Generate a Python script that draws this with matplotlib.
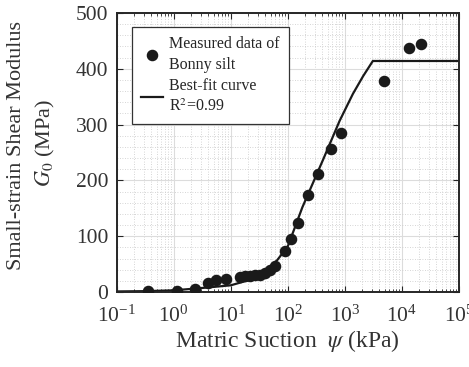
import matplotlib
matplotlib.use('Agg')
import matplotlib.pyplot as plt
from matplotlib.ticker import MultipleLocator, LogLocator
import numpy as np

plt.rcParams['font.family'] = ['Liberation Serif', 'DejaVu Serif']
plt.rcParams['mathtext.fontset'] = 'stix'
plt.rcParams['axes.unicode_minus'] = False

# measured data (kPa, MPa)
suction = [0.36, 1.16, 2.35, 4.0, 5.6, 8.1, 14.7, 17.5, 21.8, 26.7, 32.5, 40, 49, 60,
           89, 112, 148, 229, 342, 570, 870, 4900, 13200, 21400]
g0 = [1, 2, 6, 16, 22, 24, 27, 28, 29, 30, 31, 34, 39, 46,
      73, 95, 124, 174, 212, 256, 285, 379, 437, 444]

# best-fit curve
fit_suction = [0.1, 0.3, 1.0, 3.0, 10, 30, 65, 100, 180, 410, 810, 1380, 2090, 3090, 1e5]
fit_g0 = [1, 1.5, 3, 7, 12, 26, 57, 82, 152, 236, 307, 355, 387, 414, 414]

W, H = 469, 367
fig = plt.figure(figsize=(W / 100, H / 100), dpi=100)
ax = fig.add_axes([116.7 / W, 1 - 292 / H, (459 - 116.7) / W, (292 - 13) / H])

ax.grid(True, which='major', color='#dcdcdc', lw=0.8, ls='-')
ax.grid(True, which='minor', color='#c8c8c8', lw=0.6, ls=(0, (1, 2)))

p1, = ax.plot(suction, g0, 'o', color='#1a1a1a', ms=7.3, mec='#1a1a1a', zorder=3)
p2, = ax.plot(fit_suction, fit_g0, '-', color='#1a1a1a', lw=1.6, zorder=2)

ax.set_xscale('log')
ax.set_xlim(1e-1, 1e5)
ax.set_ylim(0, 500)
ax.xaxis.set_major_locator(LogLocator(base=10, numticks=10))
ax.xaxis.set_minor_locator(LogLocator(base=10, subs=np.arange(2, 10), numticks=20))
ax.yaxis.set_major_locator(MultipleLocator(100))
ax.yaxis.set_minor_locator(MultipleLocator(20))

ax.tick_params(which='both', direction='in', top=True, right=True, labelsize=15.5,
               color='#262626', labelcolor='#333333')
ax.tick_params(which='major', length=4)
ax.tick_params(which='minor', length=2)
ax.tick_params(axis='x', pad=10)
ax.tick_params(axis='y', pad=6)
ax.tick_params(axis='y', which='minor', left=False, right=False)
for s in ax.spines.values():
    s.set_color('#262626')
    s.set_linewidth(1.4)

ax.set_xlabel(r'Matric Suction  $\mathit{\psi}$ (kPa)', fontsize=17, color='#333333', labelpad=0.5)

fig.text(17 / W, 1 - 145 / H, 'Small-strain Shear Modulus', rotation=90, fontsize=16,
         ha='center', va='center', color='#333333')
fig.text(45 / W, 1 - 143 / H, r'$\mathit{G_0}$ (MPa)', rotation=90, fontsize=16,
         ha='center', va='center', color='#333333')

leg = ax.legend([p1, p2], ['Measured data of\nBonny silt', 'Best-fit curve\nR$^2$=0.99'],
                loc='upper left', bbox_to_anchor=(0.044, 0.949), borderaxespad=0,
                fontsize=11.5, frameon=True, fancybox=False, edgecolor='#333333',
                framealpha=1, handlelength=1.4, handletextpad=0.4, borderpad=0.55,
                labelspacing=0.3)
leg.get_frame().set_linewidth(0.9)
for t in leg.get_texts():
    t.set_color('#262626')
    t.set_linespacing(1.4)

fig.savefig('out.png', dpi=100)
